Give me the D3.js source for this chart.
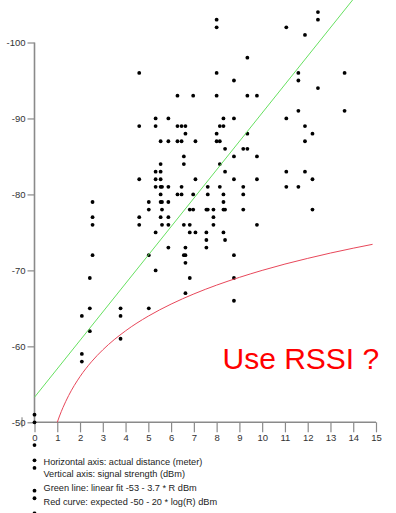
<!DOCTYPE html>
<html>
<head>
    <title>RSSI vs distance</title>
    <script src="https://d3js.org/d3.v7.min.js"></script>
    <style>
        body { margin: 0; background: #fff; }
        text { font-family: "Liberation Sans", Arial, sans-serif; }
    </style>
</head>
<body>
    <div id="chart"></div>

    <script>
        const distR = [
            0, 0, 0, 0, 0, 0, 0, 0,
            2.08, 2.08, 2.08,
            2.43, 2.43, 2.43,
            2.55, 2.55, 2.55, 2.55,
            3.78, 3.78, 3.78,
            4.6, 4.6, 4.6, 4.6, 4.6,
            5.02, 5.02, 5.02, 5.02,
            5.32, 5.32, 5.32, 5.32, 5.32, 5.32, 5.32,
            5.54, 5.54, 5.54, 5.54, 5.54, 5.54, 5.54, 5.54,
            5.6, 5.6, 5.6, 5.6,
            5.88, 5.88, 5.88, 5.88, 5.88, 5.88, 5.88,
            6.28, 6.28, 6.28, 6.28,
            6.46, 6.46, 6.46, 6.46,
            6.56, 6.56, 6.56, 6.56,
            6.63, 6.63, 6.63, 6.63, 6.63, 6.63,
            6.82, 6.82, 6.82, 6.82,
            6.97, 6.97, 6.97,
            7.07, 7.07, 7.07,
            7.55, 7.55, 7.55, 7.55,
            7.61, 7.61, 7.61,
            7.86, 7.86, 7.86,
            8.0, 8.0, 8.0, 8.0, 8.0, 8.0,
            8.14, 8.14, 8.14, 8.14,
            8.3, 8.3, 8.3, 8.3, 8.3, 8.3,
            8.37, 8.37, 8.37, 8.37,
            8.76, 8.76, 8.76, 8.76, 8.76, 8.76, 8.76,
            9.17, 9.17, 9.17, 9.17,
            9.35, 9.35, 9.35, 9.35,
            9.77, 9.77, 9.77, 9.77,
            11.06, 11.06, 11.06, 11.06,
            11.59, 11.59, 11.59, 11.59,
            11.88, 11.88, 11.88, 11.88,
            12.21, 12.21, 12.21,
            12.45, 12.45, 12.45,
            13.62, 13.62
        ];
        const rssi = [
            -50, -51, -47, -45, -44, -41, -40, -38,
            -64, -59, -58,
            -69, -65, -62,
            -79, -77, -76, -72,
            -65, -64, -61,
            -96, -89, -82, -77, -76,
            -79, -78, -72, -65,
            -90, -89, -83, -82, -81, -75, -70,
            -87, -84, -83, -82, -81, -80, -79, -77,
            -81, -79, -78, -76,
            -90, -87, -81, -79, -77, -76, -73,
            -93, -89, -87, -80,
            -89, -87, -81, -80,
            -85, -84, -76, -72,
            -89, -88, -73, -72, -71, -67,
            -78, -76, -75, -69,
            -93, -80, -78,
            -87, -82, -75,
            -78, -75, -74, -73,
            -81, -80, -78,
            -78, -77, -76,
            -103, -102, -96, -93, -88, -87,
            -89, -87, -84, -81,
            -90, -89, -80, -79, -78, -75,
            -86, -83, -78, -74,
            -95, -90, -85, -82, -72, -69, -66,
            -86, -81, -80, -78,
            -98, -93, -88, -86,
            -93, -85, -82, -76,
            -102, -90, -83, -81,
            -96, -95, -91, -81,
            -101, -89, -87, -83,
            -88, -82, -78,
            -104, -103, -94,
            -96, -91
        ];

        // green fit line, two end points as drawn
        const fitR = [0, 14.0];
        const fitV = [-53.3, -105.7];

        // red expected curve, points read along it
        const expR = [1, 1.1, 1.25, 1.5, 2, 2.5, 3, 4, 5, 6, 7, 8, 9, 10, 11, 12, 13, 14, 14.85];
        const expV = [-50, -50.83, -51.94, -53.52, -56.02, -57.96, -59.54, -62.04, -63.98,
                      -65.56, -66.9, -68.06, -69.08, -70, -70.83, -71.58, -72.28, -72.92, -73.43];

        const xTicks = d3.range(0, 16);
        const yTicks = [-100, -90, -80, -70, -60, -50];

        const notes = [
            "Horizontal axis: actual distance (meter)",
            "Vertical axis: signal strength (dBm)",
            "Green line: linear fit  -53 - 3.7 * R dBm",
            "Red curve: expected -50 - 20 * log(R) dBm"
        ];

        const width = 396, height = 513;
        const svg = d3.select("#chart").append("svg")
            .attr("width", width)
            .attr("height", height);

        const x = d3.scaleLinear().domain([0, 15]).range([34.5, 376]);
        const y = d3.scaleLinear().domain([-50, -100]).range([422.3, 42.5]);

        // axes
        const yAxis = svg.append("g")
            .attr("transform", `translate(${x(0)},0)`)
            .call(d3.axisLeft(y).tickValues(yTicks).tickSize(7).tickPadding(2).tickFormat(d => d));
        const xAxis = svg.append("g")
            .attr("transform", `translate(0,${y(-50)})`)
            .call(d3.axisBottom(x).tickValues(xTicks).tickSize(10).tickPadding(2).tickFormat(d => d));

        [yAxis, xAxis].forEach(g => {
            g.select(".domain").attr("stroke", "#8a8a8a").attr("stroke-width", 1.6);
            g.selectAll(".tick line").attr("stroke", "#8a8a8a").attr("stroke-width", 1.2);
            g.selectAll("text").attr("fill", "#333").style("font-size", "9.5px")
                .style("font-family", "'Liberation Sans', Arial, sans-serif");
        });
        yAxis.select(".domain").attr("d", `M0,${y(-100)}V${y(-50)}`);
        xAxis.select(".domain").attr("d", `M${x(0)},0H${x(15)}`);

        // small bar after the -50 label, as in the scan
        svg.append("line")
            .attr("x1", 22).attr("x2", 22)
            .attr("y1", y(-50) - 5).attr("y2", y(-50) + 5)
            .attr("stroke", "#555").attr("stroke-width", 0.8);

        // points
        svg.append("g")
            .selectAll("circle")
            .data(distR.map((r, i) => ({ r: r, v: rssi[i] })))
            .join("circle")
            .attr("cx", d => x(d.r))
            .attr("cy", d => y(d.v))
            .attr("r", 1.9)
            .attr("fill", "#000");

        // red expected curve
        svg.append("path")
            .datum(expR.map((r, i) => [r, expV[i]]))
            .attr("fill", "none")
            .attr("stroke", "#e8475a")
            .attr("stroke-width", 1)
            .attr("d", d3.line().x(d => x(d[0])).y(d => y(d[1])).curve(d3.curveMonotoneX));

        // green fit line
        svg.append("path")
            .datum(fitR.map((r, i) => [r, fitV[i]]))
            .attr("fill", "none")
            .attr("stroke", "#66e060")
            .attr("stroke-width", 1)
            .attr("d", d3.line().x(d => x(d[0])).y(d => y(d[1])));

        svg.append("text")
            .attr("x", 222.5)
            .attr("y", 368.5)
            .attr("fill", "#f00")
            .style("font-size", "30px")
            .text("Use RSSI ?");

        svg.selectAll(".note")
            .data(notes)
            .join("text")
            .attr("class", "note")
            .attr("x", 43.5)
            .attr("y", (d, i) => [464.5, 477, 491, 504.5][i])
            .attr("fill", "#222")
            .style("font-size", "9.2px")
            .text(d => d);
    </script>
</body>
</html>
